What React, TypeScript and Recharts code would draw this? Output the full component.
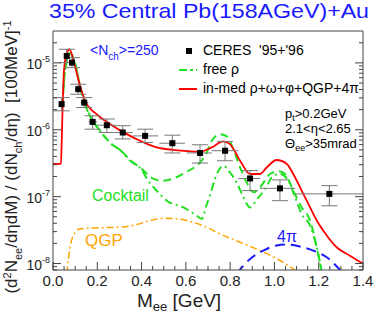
import React from "react";
import { ComposedChart, Line, Scatter, XAxis, YAxis, ErrorBar } from "recharts";

// CERES '95+'96 data
const ceresMass = [0.039, 0.062, 0.086, 0.114, 0.141, 0.179, 0.243, 0.315, 0.416, 0.539, 0.664, 0.777, 0.89, 1.025, 1.248];
const ceresYield = [2.42e-6, 1.27e-5, 1.01e-5, 4.05e-6, 2.55e-6, 1.31e-6, 1.17e-6, 9.1e-7, 8.1e-7, 6.3e-7, 4.5e-7, 4.86e-7, 1.87e-7, 1.33e-7, 1.1e-7];
const ceresHigh = [3.03e-6, 1.6e-5, 1.2e-5, 4.8e-6, 3.03e-6, 1.62e-6, 1.45e-6, 1.15e-6, 1.02e-6, 8.3e-7, 5.97e-7, 6.7e-7, 2.45e-7, 1.78e-7, 1.46e-7];
const ceresLow = [1.92e-6, 1.01e-5, 8.5e-6, 3.4e-6, 2.15e-6, 1.02e-6, 9.1e-7, 7.3e-7, 6.45e-7, 4.5e-7, 3.18e-7, 3.44e-7, 1.23e-7, 8.7e-8, 7.3e-8];
const binLow = [0.025, 0.05, 0.075, 0.1, 0.125, 0.16, 0.2, 0.28, 0.36, 0.48, 0.604, 0.717, 0.837, 0.935, 1.093];
const binHigh = [0.05, 0.075, 0.1, 0.125, 0.16, 0.2, 0.28, 0.36, 0.475, 0.596, 0.717, 0.837, 0.935, 1.093, 1.4];

// in-medium rho+omega+phi+QGP+4pi
const inMedMass = [0, 0.036, 0.039, 0.044, 0.05, 0.059, 0.074, 0.099, 0.122, 0.145, 0.197, 0.257, 0.333, 0.408, 0.468, 0.543, 0.664, 0.717, 0.769, 0.799, 0.845, 0.89, 0.935, 0.965, 1.01, 1.056, 1.085, 1.123, 1.161, 1.191, 1.221, 1.281, 1.341, 1.4];
const inMedYield = [3.1e-7, 3.1e-7, 6.1e-7, 2.55e-6, 8.05e-6, 1.27e-5, 1.6e-5, 9.0e-6, 4.54e-6, 2.71e-6, 1.71e-6, 1.22e-6, 8.6e-7, 6.5e-7, 5.45e-7, 5.0e-7, 4.7e-7, 5.45e-7, 6.7e-7, 6.1e-7, 3.45e-7, 2.18e-7, 2.18e-7, 2.73e-7, 3.53e-7, 3.08e-7, 2.18e-7, 1.23e-7, 6.9e-8, 4.4e-8, 3.1e-8, 1.75e-8, 1.31e-8, 9.9e-9];

// free rho
const freeMass = [0.043, 0.054, 0.077, 0.099, 0.122, 0.137, 0.167, 0.212, 0.265, 0.303, 0.35, 0.401, 0.452, 0.497, 0.587, 0.687, 0.717, 0.754, 0.787, 0.814, 0.845, 0.875, 0.905, 0.935, 0.98, 1.018, 1.048, 1.085, 1.123, 1.161, 1.191, 1.214];
const freeYield = [2.28e-6, 7.6e-6, 1.41e-5, 1.0e-5, 4.54e-6, 2.87e-6, 1.62e-6, 9.7e-7, 6.1e-7, 5.0e-7, 3.5e-7, 2.59e-7, 1.86e-7, 1.73e-7, 2.2e-7, 4.1e-7, 6.85e-7, 8.6e-7, 7.9e-7, 5.15e-7, 2.73e-7, 1.62e-7, 1.16e-7, 1.38e-7, 2.18e-7, 2.39e-7, 2.18e-7, 1.23e-7, 6.9e-8, 4.4e-8, 1.75e-8, 7.5e-9];

// cocktail
const cocktailMass = [0.043, 0.054, 0.077, 0.099, 0.122, 0.137, 0.167, 0.212, 0.265, 0.303, 0.35, 0.401, 0.43, 0.468, 0.514, 0.589, 0.649, 0.672, 0.694, 0.709, 0.732, 0.769, 0.799, 0.83, 0.86, 0.89, 0.92, 0.958, 0.995, 1.025, 1.063, 1.093, 1.123, 1.161, 1.191, 1.214];
const cocktailYield = [2.28e-6, 7.6e-6, 1.41e-5, 1.0e-5, 4.54e-6, 2.87e-6, 1.62e-6, 9.7e-7, 6.1e-7, 5.0e-7, 3.4e-7, 2.5e-7, 1.73e-7, 1.23e-7, 8.7e-8, 6.9e-8, 5.2e-8, 4.65e-8, 7.6e-8, 1.04e-7, 1.86e-7, 2.9e-7, 2.31e-7, 1.62e-7, 9.8e-8, 6.9e-8, 9.0e-8, 1.3e-7, 2.06e-7, 2.18e-7, 1.73e-7, 9.8e-8, 5.5e-8, 3.7e-8, 1.75e-8, 7.5e-9];

// QGP
const qgpMass = [0.062, 0.077, 0.092, 0.122, 0.182, 0.288, 0.378, 0.438, 0.498, 0.559, 0.634, 0.694, 0.754, 0.845, 0.935, 1.025, 1.101];
const qgpYield = [7.1e-9, 1.75e-8, 2.62e-8, 3.3e-8, 3.41e-8, 3.48e-8, 3.82e-8, 4.39e-8, 4.74e-8, 4.65e-8, 4.13e-8, 3.48e-8, 2.77e-8, 2.08e-8, 1.56e-8, 1.11e-8, 7.6e-9];

// 4pi
const fourPiMass = [0.83, 0.89, 0.95, 1.01, 1.056, 1.116, 1.176, 1.236, 1.311];
const fourPiYield = [7.1e-9, 1.17e-8, 1.56e-8, 1.86e-8, 1.92e-8, 1.79e-8, 1.56e-8, 1.24e-8, 7.1e-9];

const majorY = [1e-8, 1e-7, 1e-6, 1e-5];
const minorY = [8e-9, 9e-9, 2e-8, 3e-8, 4e-8, 5e-8, 6e-8, 7e-8, 8e-8, 9e-8, 2e-7, 3e-7, 4e-7, 5e-7, 6e-7, 7e-7, 8e-7, 9e-7, 2e-6, 3e-6, 4e-6, 5e-6, 6e-6, 7e-6, 8e-6, 9e-6, 2e-5];
const majorX = [0, 0.2, 0.4, 0.6, 0.8, 1.0, 1.2, 1.4];
const minorX = [0.05, 0.1, 0.15, 0.25, 0.3, 0.35, 0.45, 0.5, 0.55, 0.65, 0.7, 0.75, 0.85, 0.9, 0.95, 1.05, 1.1, 1.15, 1.25, 1.3, 1.35];

const FONT = "'Liberation Sans', Arial, Helvetica, sans-serif";
const FRAME = "#444";
const RED = "#ff0000";
const GREEN = "#22e022";
const ORANGE = "#ffa500";
const BLUE = "#1a1aff";

const series = (xs: number[], ys: number[]) => xs.map((x, i) => ({ x, y: ys[i] }));

const ceres = ceresMass.map((x, i) => ({
  x,
  y: ceresYield[i],
  ey: [ceresYield[i] - ceresLow[i], ceresHigh[i] - ceresYield[i]],
  ex: [x - binLow[i], binHigh[i] - x],
}));

const isMajorY = (v: number) => majorY.some((m) => Math.abs(m - v) / m < 1e-6);
const isMajorX = (v: number) => majorX.some((m) => Math.abs(m - v) < 1e-6);

const LeftTick = (p: any) => {
  const v = p.payload.value;
  const major = isMajorY(v);
  return (
    <g>
      <line x1={p.x} x2={p.x + (major ? 8 : 4)} y1={p.y} y2={p.y} stroke={FRAME} />
      {major && (
        <text x={p.x - 3} y={p.y + 6} textAnchor="end" fontSize={14} fontFamily={FONT} fill="#222">
          10<tspan dy={-7} fontSize={9}>{String(Math.round(Math.log10(v)))}</tspan>
        </text>
      )}
    </g>
  );
};

const RightTick = (p: any) => {
  const major = isMajorY(p.payload.value);
  return <line x1={p.x} x2={p.x - (major ? 8 : 4)} y1={p.y} y2={p.y} stroke={FRAME} />;
};

const BottomTick = (p: any) => {
  const v = p.payload.value;
  const major = isMajorX(v);
  return (
    <g>
      <line x1={p.x} x2={p.x} y1={p.y} y2={p.y - (major ? 8 : 4)} stroke={FRAME} />
      {major && (
        <text x={p.x} y={p.y + 16} textAnchor="middle" fontSize={15} fontFamily={FONT} fill="#222">
          {v.toFixed(1)}
        </text>
      )}
    </g>
  );
};

const TopTick = (p: any) => {
  const major = isMajorX(p.payload.value);
  return <line x1={p.x} x2={p.x} y1={p.y} y2={p.y + (major ? 8 : 4)} stroke={FRAME} />;
};

const square = (p: any) => <rect x={p.cx - 3} y={p.cy - 3} width={6} height={6} fill="#000" />;

export default function App() {
  const yTicks = [...minorY, ...majorY].sort((a, b) => a - b);
  const xTicks = [...minorX, ...majorX].sort((a, b) => a - b);
  return (
    <div style={{ position: "relative", width: 374, height: 316, fontFamily: FONT }}>
      <style>{"body{margin:0}"}</style>
      <ComposedChart width={374} height={316} margin={{ top: 30, right: 10, bottom: 45, left: 52 }}>
        <XAxis
          dataKey="x"
          type="number"
          domain={[0, 1.4]}
          allowDataOverflow
          ticks={xTicks}
          interval={0}
          tick={BottomTick}
          tickSize={0}
          tickMargin={0}
          tickLine={false}
          height={1}
          axisLine={{ stroke: FRAME }}
        />
        <XAxis
          xAxisId="top"
          orientation="top"
          type="number"
          domain={[0, 1.4]}
          ticks={xTicks}
          interval={0}
          tick={TopTick}
          tickSize={0}
          tickMargin={0}
          tickLine={false}
          height={1}
          axisLine={{ stroke: FRAME }}
        />
        <YAxis
          scale="log"
          domain={[8e-9, 3e-5]}
          allowDataOverflow
          ticks={yTicks}
          interval={0}
          tick={LeftTick}
          tickSize={0}
          tickMargin={0}
          tickLine={false}
          width={1}
          axisLine={{ stroke: FRAME }}
        />
        <YAxis
          yAxisId="right"
          orientation="right"
          scale="log"
          domain={[8e-9, 3e-5]}
          allowDataOverflow
          ticks={yTicks}
          interval={0}
          tick={RightTick}
          tickSize={0}
          tickMargin={0}
          tickLine={false}
          width={1}
          axisLine={{ stroke: FRAME }}
        />
        <Line data={series(qgpMass, qgpYield)} dataKey="y" type="monotone" dot={false} stroke={ORANGE} strokeWidth={1.5} strokeDasharray="7 3 2 3" isAnimationActive={false} />
        <Line data={series(fourPiMass, fourPiYield)} dataKey="y" type="monotone" dot={false} stroke={BLUE} strokeWidth={2} strokeDasharray="10 6" isAnimationActive={false} />
        <Line data={series(cocktailMass, cocktailYield)} dataKey="y" type="monotone" dot={false} stroke={GREEN} strokeWidth={2} strokeDasharray="8 4 2 4" isAnimationActive={false} />
        <Line data={series(freeMass, freeYield)} dataKey="y" type="monotone" dot={false} stroke={GREEN} strokeWidth={2} strokeDasharray="8 5" isAnimationActive={false} />
        <Line data={series(inMedMass, inMedYield)} dataKey="y" type="monotone" dot={false} stroke={RED} strokeWidth={1.8} isAnimationActive={false} />
        <Scatter data={ceres} dataKey="y" shape={square} isAnimationActive={false}>
          <ErrorBar dataKey="ex" direction="x" width={0} stroke="#777" strokeWidth={1} isAnimationActive={false} />
          <ErrorBar dataKey="ey" direction="y" width={8} stroke="#777" strokeWidth={1} isAnimationActive={false} />
        </Scatter>
      </ComposedChart>
      <svg width={374} height={316} style={{ position: "absolute", left: 0, top: 0, pointerEvents: "none" }} fontFamily={FONT}>
        <text x={49} y={18} fontSize={21} fill={BLUE} textLength={320} lengthAdjust="spacingAndGlyphs">
          35% Central Pb(158AGeV)+Au
        </text>
        <text x={90} y={55} fontSize={14} fill={BLUE}>
          &lt;N<tspan dy={5} fontSize={10}>ch</tspan><tspan dy={-5}>&gt;=250</tspan>
        </text>
        <rect x={186} y={48} width={6} height={6} fill="#000" />
        <text x={203} y={55} fontSize={14} fill="#000" style={{ whiteSpace: "pre" }}>CERES  '95+'96</text>
        <line x1={179} x2={197} y1={70} y2={70} stroke={GREEN} strokeWidth={2} strokeDasharray="8 3 3 3" />
        <text x={203} y={74} fontSize={14} fill="#000">free ρ</text>
        <line x1={179} x2={197} y1={89} y2={89} stroke={RED} strokeWidth={2} />
        <text x={203} y={93} fontSize={14} fill="#000">in-med ρ+ω+φ+QGP+4π</text>
        <text x={285} y={118} fontSize={13} fill="#000">
          p<tspan dy={3} fontSize={9}>t</tspan><tspan dy={-3}>&gt;0.2GeV</tspan>
        </text>
        <text x={285} y={133} fontSize={13} fill="#000">2.1&lt;η&lt;2.65</text>
        <text x={285} y={148} fontSize={13} fill="#000">
          Θ<tspan dy={3} fontSize={9}>ee</tspan><tspan dy={-3}>&gt;35mrad</tspan>
        </text>
        <text x={92} y={201} fontSize={16} fill={GREEN}>Cocktail</text>
        <text x={85} y={246} fontSize={17} fill={ORANGE}>QGP</text>
        <text x={277} y={242} fontSize={16} fill={BLUE}>4π</text>
        <text x={137} y={307} fontSize={19} fill="#222">
          M<tspan dy={4} fontSize={13}>ee</tspan><tspan dy={-4}> [GeV]</tspan>
        </text>
        <text x={17} y={157} fontSize={17} fill="#222" textAnchor="middle" transform="rotate(-90 17 157)" style={{ whiteSpace: "pre" }}>
          (d<tspan dy={-6} fontSize={11}>2</tspan><tspan dy={6}>N</tspan><tspan dy={5} fontSize={11}>ee</tspan><tspan dy={-5}>/dηdM) / (dN</tspan><tspan dy={5} fontSize={11}>ch</tspan><tspan dy={-5}>/dη)  [100MeV]</tspan><tspan dy={-6} fontSize={11}>-1</tspan>
        </text>
      </svg>
    </div>
  );
}
